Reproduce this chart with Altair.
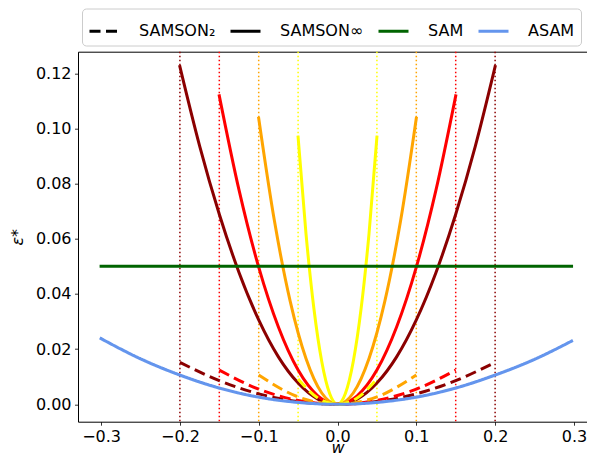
import altair as alt
import pandas as pd

# ---- data ----
colors = ["#8b0000", "#ff0000", "#ffa500", "#ffff00"]  # darkred, red, orange, yellow
radii = [0.2, 0.15, 0.1, 0.05]

# SAMSON_inf (solid)
w_inf_dr = [-0.2, -0.175, -0.15, -0.125, -0.1, -0.075, -0.05, -0.025, 0.0, 0.025, 0.05, 0.075, 0.1, 0.125, 0.15, 0.175, 0.2]
e_inf_dr = [0.1224, 0.0937, 0.0689, 0.0478, 0.0306, 0.0172, 0.0077, 0.0019, 0.0, 0.0019, 0.0077, 0.0172, 0.0306, 0.0478, 0.0689, 0.0937, 0.1224]
w_inf_r = [-0.15, -0.125, -0.1, -0.075, -0.05, -0.025, 0.0, 0.025, 0.05, 0.075, 0.1, 0.125, 0.15]
e_inf_r = [0.1118, 0.0777, 0.0497, 0.0280, 0.0124, 0.0031, 0.0, 0.0031, 0.0124, 0.0280, 0.0497, 0.0777, 0.1118]
w_inf_o = [-0.1, -0.08, -0.06, -0.04, -0.02, 0.0, 0.02, 0.04, 0.06, 0.08, 0.1]
e_inf_o = [0.1037, 0.0664, 0.0373, 0.0166, 0.0041, 0.0, 0.0041, 0.0166, 0.0373, 0.0664, 0.1037]
w_inf_y = [-0.05, -0.04, -0.03, -0.02, -0.01, 0.0, 0.01, 0.02, 0.03, 0.04, 0.05]
e_inf_y = [0.0968, 0.0619, 0.0348, 0.0155, 0.0039, 0.0, 0.0039, 0.0155, 0.0348, 0.0619, 0.0968]

# SAMSON_2 (dashed)
w_two_dr = [-0.2, -0.15, -0.1, -0.05, 0.0, 0.05, 0.1, 0.15, 0.2]
e_two_dr = [0.0152, 0.0086, 0.0038, 0.0010, 0.0, 0.0010, 0.0038, 0.0086, 0.0152]
w_two_r = [-0.15, -0.1, -0.05, 0.0, 0.05, 0.1, 0.15]
e_two_r = [0.0124, 0.0055, 0.0014, 0.0, 0.0014, 0.0055, 0.0124]
w_two_o = [-0.1, -0.05, 0.0, 0.05, 0.1]
e_two_o = [0.0106, 0.0027, 0.0, 0.0027, 0.0106]
w_two_y = [-0.05, -0.025, 0.0, 0.025, 0.05]
e_two_y = [0.0092, 0.0023, 0.0, 0.0023, 0.0092]

# SAM and ASAM
w_sam = [-0.3, 0.297]
e_sam = [0.05, 0.05]
w_asam = [-0.3, -0.25, -0.2, -0.15, -0.1, -0.05, 0.0, 0.05, 0.1, 0.15, 0.2, 0.25, 0.297]
e_asam = [0.0238, 0.0165, 0.0106, 0.0059, 0.0026, 0.0007, 0.0, 0.0007, 0.0026, 0.0059, 0.0106, 0.0163, 0.0229]

legend_names = ["SAMSON₂", "SAMSON∞", "SAM", "ASAM"]
legend_colors = ["black", "black", "#006400", "#6495ed"]
DASH = [11, 5.5]

# ---- tables ----
def curves(ws, es, tag):
    rows = []
    for i, (w, e) in enumerate(zip(ws, es)):
        for a, b in zip(w, e):
            rows.append({"w": a, "eps": b, "col": colors[i], "id": f"{tag}{i}"})
    return pd.DataFrame(rows)

df_inf = curves([w_inf_dr, w_inf_r, w_inf_o, w_inf_y], [e_inf_dr, e_inf_r, e_inf_o, e_inf_y], "inf")
df_two = curves([w_two_dr, w_two_r, w_two_o, w_two_y], [e_two_dr, e_two_r, e_two_o, e_two_y], "two")

rule_rows = []
for c, r in zip(colors, radii):
    rule_rows.append({"w": -r, "col": c})
    rule_rows.append({"w": r, "col": c})
df_rules = pd.DataFrame(rule_rows)

df_base = pd.concat([
    pd.DataFrame({"w": w_sam, "eps": e_sam, "name": "SAM"}),
    pd.DataFrame({"w": w_asam, "eps": e_asam, "name": "ASAM"}),
])

PW, PH = 509, 370

xs = alt.Scale(domain=[-0.3293, 0.3166], nice=False, zero=False)
ys = alt.Scale(domain=[-0.0063, 0.1278], nice=False, zero=False)

x_bottom = alt.Axis(values=[-0.3, -0.2, -0.1, 0.0, 0.1, 0.2, 0.3], format=".1f", title="w",
                    titleFontStyle="italic", titleX=259.5, titleY=30.5, titleBaseline="alphabetic",
                    grid=False)
x_top = alt.Axis(orient="top", labels=False, ticks=False, title=None, grid=False, domain=True)
y_axis = alt.Axis(values=[0.0, 0.02, 0.04, 0.06, 0.08, 0.10, 0.12], format=".2f", title="ε*",
                  titleX=-56, titleY=185, titleBaseline="alphabetic", titleFontStyle="italic",
                  grid=False)

rules = alt.Chart(df_rules).mark_rule(strokeWidth=1.5, strokeDash=[1.5, 2.5]).encode(
    x=alt.X("w:Q", scale=xs, axis=x_top),
    stroke=alt.Stroke("col:N", scale=None),
)

solid = alt.Chart(df_inf).mark_line(strokeWidth=3, interpolate="monotone", strokeCap="square").encode(
    x=alt.X("w:Q", scale=xs, axis=x_bottom),
    y=alt.Y("eps:Q", scale=ys, axis=y_axis),
    stroke=alt.Stroke("col:N", scale=None),
    detail="id:N",
)

dashed = alt.Chart(df_two).mark_line(strokeWidth=3, interpolate="monotone", strokeDash=DASH).encode(
    x=alt.X("w:Q", scale=xs, axis=None),
    y=alt.Y("eps:Q", scale=ys),
    stroke=alt.Stroke("col:N", scale=None),
    detail="id:N",
)

base = alt.Chart(df_base).mark_line(strokeWidth=3, interpolate="monotone", strokeCap="square").encode(
    x=alt.X("w:Q", scale=xs, axis=None),
    y=alt.Y("eps:Q", scale=ys),
    color=alt.Color("name:N", scale=alt.Scale(domain=legend_names, range=legend_colors),
                    legend=alt.Legend(title=None)),
    strokeDash=alt.StrokeDash("name:N", scale=alt.Scale(domain=legend_names,
                                                        range=[DASH, [1, 0], [1, 0], [1, 0]]),
                              legend=alt.Legend(title=None)),
)

chart = alt.layer(rules, solid, dashed, base).resolve_axis(x="independent").properties(
    width=PW, height=PH,
    padding={"left": 70, "top": 43.7, "right": 0, "bottom": 31.3},
    autosize=alt.AutoSizeParams(type="none"),
).configure(
    font="DejaVu Sans",
).configure_view(
    stroke=None,
).configure_axis(
    labelFont="DejaVu Sans", labelFontSize=16, labelColor="black",
    titleFont="DejaVu Sans", titleFontSize=16, titleColor="black", titleFontWeight="normal",
    domainColor="black", domainWidth=1, tickColor="black", tickWidth=0.8, tickSize=3.5,
    labelPadding=3.5,
).configure_legend(
    orient="none", legendX=4, legendY=-43.2, direction="horizontal",
    symbolType="stroke", symbolSize=900, symbolStrokeWidth=3,
    labelFont="DejaVu Sans", labelFontSize=16, labelColor="black",
    padding=6, strokeColor="#cccccc", cornerRadius=4, fillColor="white",
    columnPadding=8, labelOffset=18,
)

chart.save("out.html", embed_options={"renderer": "svg", "actions": False})
